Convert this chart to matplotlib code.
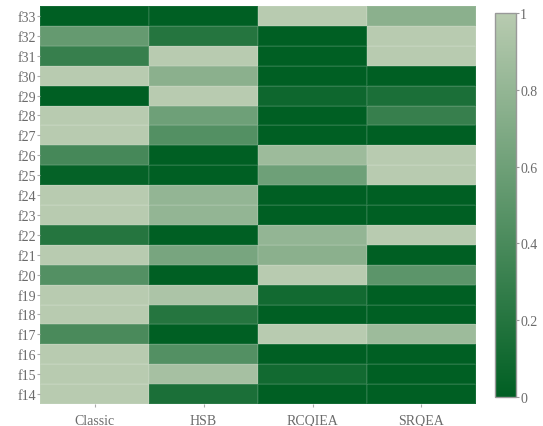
import numpy as np
import matplotlib.pyplot as plt
from matplotlib.colors import LinearSegmentedColormap

methods = ['Classic', 'HSB', 'RCQIEA', 'SRQEA']
functions = ['f14', 'f15', 'f16', 'f17', 'f18', 'f19', 'f20', 'f21', 'f22', 'f23',
             'f24', 'f25', 'f26', 'f27', 'f28', 'f29', 'f30', 'f31', 'f32', 'f33']

# normalised scores per function, f14 .. f33
classic = [1.00, 1.00, 1.00, 0.40, 1.00, 1.00, 0.45, 1.00, 0.20, 1.00,
           1.00, 0.03, 0.38, 1.00, 1.00, 0.00, 1.00, 0.30, 0.55, 0.00]
hsb = [0.15, 0.90, 0.45, 0.00, 0.20, 0.93, 0.00, 0.65, 0.00, 0.80,
       0.80, 0.00, 0.00, 0.45, 0.60, 1.00, 0.75, 1.00, 0.20, 0.00]
rcqiea = [0.00, 0.10, 0.00, 1.00, 0.00, 0.10, 1.00, 0.75, 0.80, 0.00,
          0.00, 0.60, 0.85, 0.00, 0.00, 0.08, 0.00, 0.00, 0.00, 1.00]
srqea = [0.00, 0.00, 0.00, 0.85, 0.00, 0.00, 0.50, 0.00, 1.00, 0.00,
         0.00, 1.00, 1.00, 0.00, 0.30, 0.15, 0.00, 1.00, 1.00, 0.75]

z = np.array([classic, hsb, rcqiea, srqea]).T

greens = LinearSegmentedColormap.from_list('greens', ['#005f23', '#b8cbb0'])
txt = '#6b6b6b'
plt.rcParams['font.family'] = ['Liberation Serif', 'DejaVu Serif']

fig = plt.figure(figsize=(5.43, 4.27), dpi=100)
ax = fig.add_axes([0.0737, 0.0515, 0.8029, 0.9321])
mesh = ax.pcolormesh(z, cmap=greens, vmin=0, vmax=1,
                     edgecolor=(1, 1, 1, 0.08), linewidth=0.3)

ax.set_xticks(np.arange(len(methods)) + 0.5)
ax.set_xticklabels(methods)
ax.set_yticks(np.arange(len(functions)) + 0.5)
ax.set_yticklabels(functions)
ax.tick_params(colors='#aaaaaa', labelcolor=txt, labelsize=10, length=2, width=0.8, pad=1)
ax.tick_params(axis='x', pad=5)
for s in ax.spines.values():
    s.set_visible(False)

cax = fig.add_axes([0.9116, 0.0679, 0.0387, 0.8991])
cb = fig.colorbar(mesh, cax=cax, ticks=[0, 0.2, 0.4, 0.6, 0.8, 1])
cb.ax.set_yticklabels(['0', '0.2', '0.4', '0.6', '0.8', '1'])
cb.outline.set_edgecolor('#999999')
cb.outline.set_linewidth(1)
cb.ax.tick_params(colors='#999999', labelcolor=txt, labelsize=10, length=2, pad=1)

fig.savefig('out.png', dpi=100)
